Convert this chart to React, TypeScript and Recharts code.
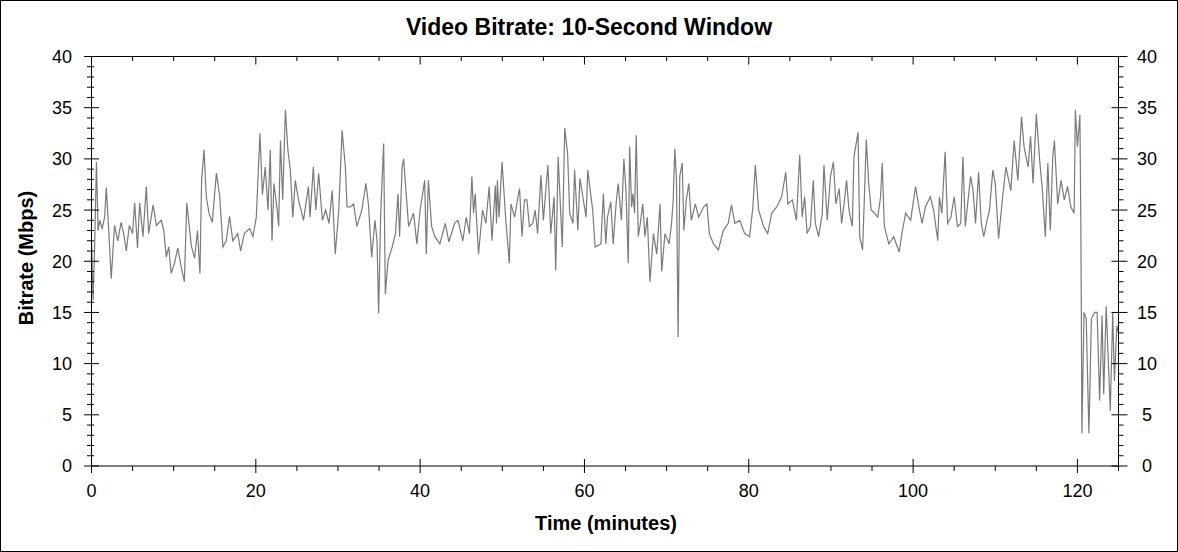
import { Line, LineChart, XAxis, YAxis } from "recharts"

// minutes into the title
const minutes = [
  0, 0.2, 0.4, 0.6, 0.8, 1.0, 1.3, 1.6, 1.8, 2.1, 2.4, 2.8, 3.2, 3.6, 3.96, 4.24, 4.6, 5.0, 5.25, 5.6,
  5.86, 6.27, 6.67, 6.96, 7.5, 7.9, 8.5, 8.8, 9.1, 9.4, 9.7, 10.1, 10.5, 10.9, 11.3, 11.6, 12.15, 12.55, 12.9, 13.2,
  13.4, 13.7, 13.97, 14.3, 14.7, 15.2, 15.6, 16.0, 16.4, 16.8, 17.2, 17.8, 18.15, 18.6, 19.25, 19.65, 20.06, 20.5, 20.8, 21.15,
  21.48, 21.76, 21.97, 22.2, 22.6, 22.78, 23.0, 23.27, 23.6, 23.9, 24.2, 24.5, 24.8, 25.2, 25.8, 26.4, 26.6, 27.0, 27.3, 27.65,
  28.1, 28.5, 28.9, 29.3, 29.67, 30.1, 30.5, 30.9, 31.1, 31.5, 31.9, 32.3, 32.9, 33.4, 33.7, 34.1, 34.5, 34.75, 34.95, 35.2,
  35.56, 35.76, 36.1, 36.6, 37.0, 37.3, 37.5, 37.8, 37.99, 38.3, 38.6, 39.2, 39.6, 40.0, 40.55, 40.75, 41.0, 41.4, 41.8, 42.4,
  43.06, 43.5, 44.2, 44.6, 45.2, 45.6, 46.0, 46.3, 46.5, 46.7, 47.1, 47.6, 48.0, 48.4, 48.75, 49.15, 49.3, 49.4, 49.6, 49.97,
  50.4, 50.85, 51.05, 51.5, 51.9, 52.1, 52.4, 52.7, 53.0, 53.3, 53.7, 54.0, 54.3, 54.7, 55.0, 55.55, 55.9, 56.3, 56.5, 56.8,
  57.3, 57.6, 57.95, 58.2, 58.6, 58.8, 59.2, 59.45, 59.8, 60.2, 60.4, 60.8, 61.0, 61.3, 62.0, 62.3, 62.6, 62.8, 63.2, 63.5,
  63.85, 64.1, 64.5, 64.8, 65.05, 65.33, 65.5, 65.74, 65.9, 66.1, 66.3, 66.55, 66.8, 67.1, 67.36, 67.65, 67.97, 68.4, 68.8, 69.2,
  69.4, 69.8, 70.3, 70.6, 70.8, 71.0, 71.2, 71.4, 71.6, 71.9, 72.1, 72.4, 72.7, 73.0, 73.5, 73.9, 74.5, 74.9, 75.2, 75.7,
  76.3, 76.9, 77.5, 77.9, 78.3, 78.9, 79.5, 80.1, 80.5, 80.8, 81.2, 81.8, 82.3, 82.8, 83.4, 84.0, 84.5, 84.76, 85.3, 85.8,
  86.2, 86.5, 86.8, 87.1, 87.5, 87.85, 88.1, 88.5, 88.95, 89.15, 89.55, 89.95, 90.3, 90.6, 91.0, 91.3, 91.6, 91.9, 92.2, 92.6,
  92.8, 93.3, 93.5, 93.85, 94.1, 94.3, 94.6, 94.9, 95.3, 95.7, 96.04, 96.24, 96.5, 97.05, 97.65, 98.3, 98.7, 99.1, 99.7, 100.3,
  100.7, 101.1, 101.5, 102.1, 102.5, 103.0, 103.2, 103.5, 103.9, 104.2, 104.6, 105.0, 105.4, 105.8, 106.06, 106.35, 107.0, 107.3, 107.6, 107.97,
  108.3, 108.6, 109.0, 109.3, 109.7, 110.0, 110.4, 110.9, 111.3, 111.9, 112.3, 112.75, 113.2, 113.5, 114.0, 114.3, 114.6, 115.0, 115.4, 115.7,
  116.1, 116.4, 116.7, 117.0, 117.2, 117.6, 118.0, 118.4, 118.8, 119.2, 119.6, 119.75, 120.0, 120.3, 120.42, 120.55, 120.8, 121.07, 121.4, 121.7,
  122.1, 122.4, 122.7, 123.0, 123.2, 123.5, 124.0, 124.3, 124.5, 124.8, 125.0,
]

// video bitrate in Mbps at each minute above
const mbps = [
  22, 16.2, 22, 29.7, 23, 24, 23.2, 24.3, 27.2, 23, 18.3, 23.5, 22, 23.8, 22.5, 21, 23.5, 22.7, 25.7, 21.3,
  25.7, 22.4, 27.3, 22.7, 25.5, 23.5, 24, 23, 20.4, 21.4, 18.8, 19.8, 21.3, 19.5, 18, 25.7, 21.5, 20.3, 23, 18.8,
  27.9, 30.9, 26.3, 24.7, 23.8, 28.6, 26.4, 21.4, 22, 24.4, 22, 22.7, 21, 22.7, 23.2, 22.4, 24.3, 32.5, 26.5, 29.2,
  25, 30.9, 22, 27.6, 25, 23.4, 31.8, 26, 34.8, 30.9, 28.9, 24.3, 27.9, 26, 24, 27.3, 24.3, 29.2, 25, 28.6,
  24, 25, 23.7, 26.9, 20.7, 25, 32.8, 29.2, 25.3, 25.3, 25.6, 23.4, 25, 27.6, 25.6, 20.4, 24, 22, 14.9, 24.7,
  31.5, 16.8, 20.1, 21.4, 22.7, 26.6, 22.4, 29.2, 30, 26.6, 23.4, 24.7, 21.7, 25, 27.9, 20.7, 27.9, 23.4, 22.4, 21.7,
  23.7, 21.9, 23.7, 24, 22, 24.3, 22.7, 28.3, 24.7, 26.6, 20.7, 25, 23.7, 27.3, 22, 27.4, 23.7, 27.9, 24.3, 29.7,
  24.3, 19.8, 25.6, 24.3, 26.3, 27.1, 22.4, 26, 26, 23.4, 23.7, 25, 22.7, 28.4, 24, 29.4, 22.7, 26.3, 19.1, 30.2,
  21.4, 33, 30.5, 24.7, 23.7, 28.9, 23, 28.1, 26.3, 24.3, 28.9, 26.3, 25, 21.4, 21.7, 26.6, 21.7, 24.3, 25.8, 21.7,
  25.6, 27.6, 24, 30, 26.9, 19.8, 31.2, 25.3, 26.6, 24.7, 32.3, 22.4, 23.7, 25.6, 22.4, 24.3, 18, 22.7, 20.7, 25.6,
  19, 22.7, 21.7, 23.7, 26, 31, 27.9, 12.6, 28.3, 29.6, 23, 26, 27.6, 24, 25.6, 24.3, 25.3, 25.6, 22.7, 21.7,
  21.1, 23, 23.7, 25.5, 23.7, 24, 22.7, 22.4, 25.3, 29.4, 25, 23.4, 22.7, 24.7, 25.3, 26.3, 28.7, 25.6, 26, 24,
  30.4, 24.3, 26.3, 22.7, 23.4, 27.9, 23.7, 22.4, 24.7, 29.4, 24, 28.3, 29.7, 25.6, 27.1, 23.7, 25.6, 27.9, 25, 23.4,
  30.2, 32.6, 22.4, 21.1, 26.9, 31.9, 27.6, 25, 24.7, 24.3, 26.3, 29.6, 23.4, 21.7, 22.4, 20.9, 23, 24.7, 24, 27.3,
  25.3, 23.7, 25.3, 26.3, 25, 22, 26.3, 24.7, 30.7, 23.7, 24.3, 26.3, 23.4, 23.7, 30.2, 23.4, 28.3, 26.9, 23.7, 28.7,
  23.7, 22.4, 24, 25, 28.9, 27.6, 22.2, 26.3, 29.2, 26.9, 31.8, 27.9, 34.1, 31.2, 29.2, 32.2, 27.6, 34.4, 29.9, 27.3,
  22.4, 29.6, 23, 30.2, 31.8, 25.6, 27.9, 26, 27.3, 25.3, 24.7, 34.8, 31.2, 34.3, 23.4, 3.2, 15, 14.4, 3.2, 14.4,
  15, 15, 6.4, 14.7, 7, 15.6, 5.4, 15, 8.3, 13.7, 13,
]

const data = minutes.map((t, i) => ({ t, v: mbps[i] }))

const xTicks = [0, 5, 10, 15, 20, 25, 30, 35, 40, 45, 50, 55, 60, 65, 70, 75, 80, 85, 90, 95, 100, 105, 110, 115, 120, 125]
const xLabelTicks = [0, 20, 40, 60, 80, 100, 120]
const yLabelTicks = [0, 5, 10, 15, 20, 25, 30, 35, 40]
const yTicks = Array.from({ length: 41 }, (_, i) => i)

const font = '"Liberation Sans", Arial, sans-serif'

function BottomTick({ x, y, payload }: any) {
  const major = xLabelTicks.includes(payload.value)
  return (
    <g>
      <line x1={x} x2={x} y1={major ? y - 7 : y} y2={major ? y + 7 : y + 5} stroke="#000" />
      {major && (
        <text x={x} y={y + 31} textAnchor="middle" fontSize={18} fontFamily={font} fill="#000">
          {payload.value}
        </text>
      )}
    </g>
  )
}

function TopTick({ x, y, payload }: any) {
  const major = xLabelTicks.includes(payload.value)
  return <line x1={x} x2={x} y1={y} y2={y + (major ? 8 : 4.5)} stroke="#000" />
}

function LeftTick({ x, y, payload }: any) {
  const major = yLabelTicks.includes(payload.value)
  return (
    <g>
      <line x1={major ? x - 7.5 : x - 4.5} x2={major ? x + 7.5 : x + 2.5} y1={y} y2={y} stroke="#000" />
      {major && (
        <text x={x - 19.5} y={y} dy="0.36em" textAnchor="end" fontSize={18} fontFamily={font} fill="#000">
          {payload.value}
        </text>
      )}
    </g>
  )
}

function RightTick({ x, y, payload }: any) {
  const major = yLabelTicks.includes(payload.value)
  return (
    <g>
      <line x1={major ? x - 7 : x} x2={major ? x + 9 : x + 5} y1={y} y2={y} stroke="#000" />
      {major && (
        <text x={x + 28.5} y={y} dy="0.36em" textAnchor="middle" fontSize={18} fontFamily={font} fill="#000">
          {payload.value}
        </text>
      )}
    </g>
  )
}

export default function App() {
  return (
    <div
      style={{
        position: "absolute",
        left: 0,
        top: 0,
        width: 1178,
        height: 552,
        border: "1px solid #000",
        boxSizing: "border-box",
        background: "#fff",
      }}
    >
      <LineChart width={1176} height={550} data={data} margin={{ top: 45.5, right: 0.5, bottom: 25, left: 0.5 }}>
        <XAxis
          xAxisId="bottom"
          dataKey="t"
          type="number"
          domain={[0, 125]}
          ticks={xTicks}
          interval={0}
          tickLine={false}
          tickSize={0}
          tickMargin={0}
          tick={<BottomTick />}
          height={60}
          stroke="#000"
          allowDataOverflow
        />
        <XAxis
          xAxisId="top"
          orientation="top"
          dataKey="t"
          type="number"
          domain={[0, 125]}
          ticks={xTicks}
          interval={0}
          tickLine={false}
          tickSize={0}
          tickMargin={0}
          tick={<TopTick />}
          height={10}
          stroke="#000"
          allowDataOverflow
        />
        <YAxis
          yAxisId="left"
          type="number"
          domain={[0, 40]}
          ticks={yTicks}
          interval={0}
          tickLine={false}
          tickSize={0}
          tickMargin={0}
          tick={<LeftTick />}
          width={90}
          stroke="#000"
          allowDataOverflow
        />
        <YAxis
          yAxisId="right"
          orientation="right"
          type="number"
          domain={[0, 40]}
          ticks={yTicks}
          interval={0}
          tickLine={false}
          tickSize={0}
          tickMargin={0}
          tick={<RightTick />}
          width={58}
          stroke="#000"
          allowDataOverflow
        />
        <Line
          xAxisId="bottom"
          yAxisId="left"
          type="linear"
          dataKey="v"
          stroke="#7a7a7a"
          strokeWidth={1.2}
          dot={false}
          activeDot={false}
          isAnimationActive={false}
        />
      </LineChart>
      <svg
        width={1178}
        height={552}
        style={{ position: "absolute", left: -1, top: -1, pointerEvents: "none" }}
      >
        <text x={589} y={35} textAnchor="middle" fontSize={23} fontWeight="bold" fontFamily={font} fill="#000">
          Video Bitrate: 10-Second Window
        </text>
        <text x={606} y={530} textAnchor="middle" fontSize={20} fontWeight="bold" fontFamily={font} fill="#000">
          Time (minutes)
        </text>
        <text
          transform="translate(33, 258) rotate(-90)"
          textAnchor="middle"
          fontSize={20}
          fontWeight="bold"
          fontFamily={font}
          fill="#000"
        >
          Bitrate (Mbps)
        </text>
      </svg>
    </div>
  )
}
